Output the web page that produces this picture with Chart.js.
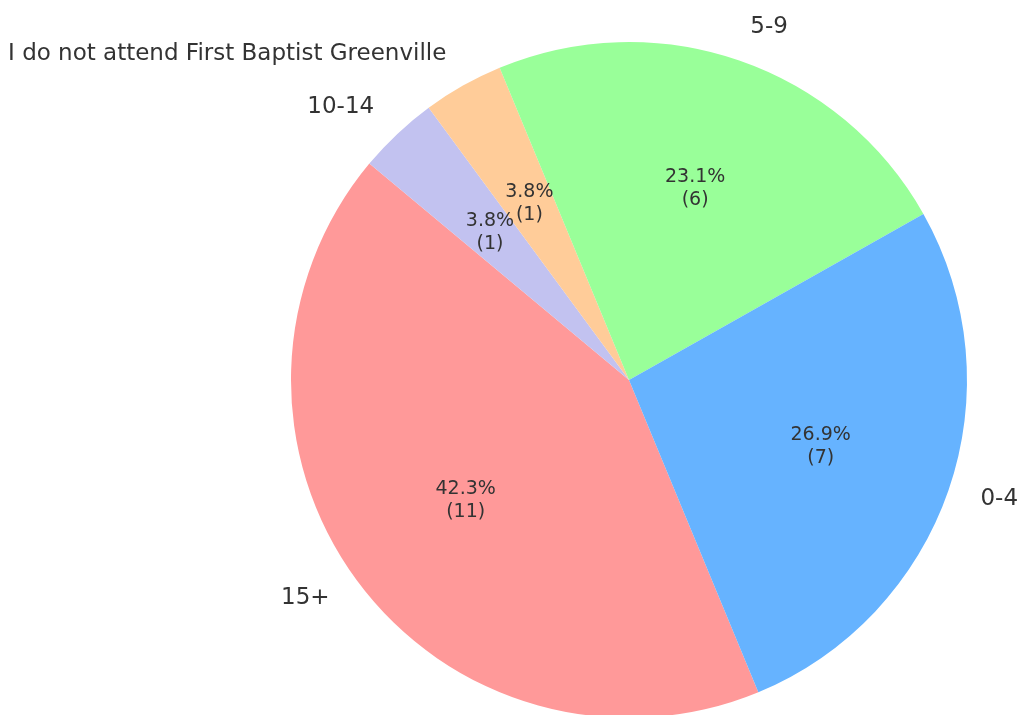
<!DOCTYPE html>
<html>
<head>
<meta charset="utf-8">
<title>Years attending</title>
<script src="https://cdn.jsdelivr.net/npm/chart.js@4/dist/chart.umd.min.js"></script>
<style>
    html, body { margin: 0; padding: 0; background: #ffffff; overflow: hidden; }
    #pieChart { display: block; }
</style>
</head>
<body>
<canvas id="pieChart" width="1021" height="760"></canvas>
<script>

// slices in drawing order (clockwise from the 15+ edge)
var groupLabels = ["15+", "10-14", "I do not attend First Baptist Greenville", "5-9", "0-4"];
var groupCounts = [11, 1, 1, 6, 7];
var groupColors = ["#ff9999", "#c2c2f0", "#ffcc99", "#99ff99", "#66b3ff"];

var textColor = "#333333";
var fontFamily = "'DejaVu Sans', sans-serif";

var pieChartData;

function main() {
    makeChartObject();
    makePieChart();
}

function makeChartObject() {
    pieChartData = {
        labels : groupLabels,
        datasets : [{
            label : "pie-chart",
            data : groupCounts,
            backgroundColor : groupColors,
            borderWidth : 0
        }]
    };
}

// percent + count inside, category name outside each slice
var sliceLabels = {
    id : "sliceLabels",
    afterDatasetsDraw : function(chart) {
        var ctx = chart.ctx;
        var meta = chart.getDatasetMeta(0);
        var total = 0;
        for (var i = 0; i < groupCounts.length; i++) {
            total += groupCounts[i];
        }

        ctx.save();
        ctx.fillStyle = textColor;
        ctx.textBaseline = "middle";

        for (var j = 0; j < meta.data.length; j++) {
            var arc = meta.data[j];
            var mid = (arc.startAngle + arc.endAngle) / 2;
            var r = arc.outerRadius;
            var cx = Math.cos(mid);
            var cy = Math.sin(mid);

            // inner text
            var pct = (groupCounts[j] / total * 100).toFixed(1) + "%";
            var ix = arc.x + cx * r * 0.6;
            var iy = arc.y + cy * r * 0.6;
            ctx.font = "19px " + fontFamily;
            ctx.textAlign = "center";
            ctx.fillText(pct, ix, iy - 11);
            ctx.fillText("(" + groupCounts[j] + ")", ix, iy + 12);

            // outer text
            var ox = arc.x + cx * r * 1.1;
            var oy = arc.y + cy * r * 1.1 - 2;
            ctx.font = "23px " + fontFamily;
            ctx.textAlign = cx >= 0 ? "left" : "right";
            ctx.fillText(groupLabels[j], ox, oy);
        }
        ctx.restore();
    }
};

function makePieChart() {
    var pieChartCanvas = document.getElementById("pieChart");
    var pieChartObject = new Chart(pieChartCanvas, {
        type : "pie",
        data : pieChartData,
        plugins : [sliceLabels],
        options : {
            responsive : false,
            animation : false,
            rotation : 157.5,
            layout : {
                padding : { left : 291, right : 54, top : 42, bottom : 42 }
            },
            plugins : {
                legend : { display : false },
                tooltip : { enabled : false }
            }
        }
    });
}

main();
</script>
</body>
</html>
